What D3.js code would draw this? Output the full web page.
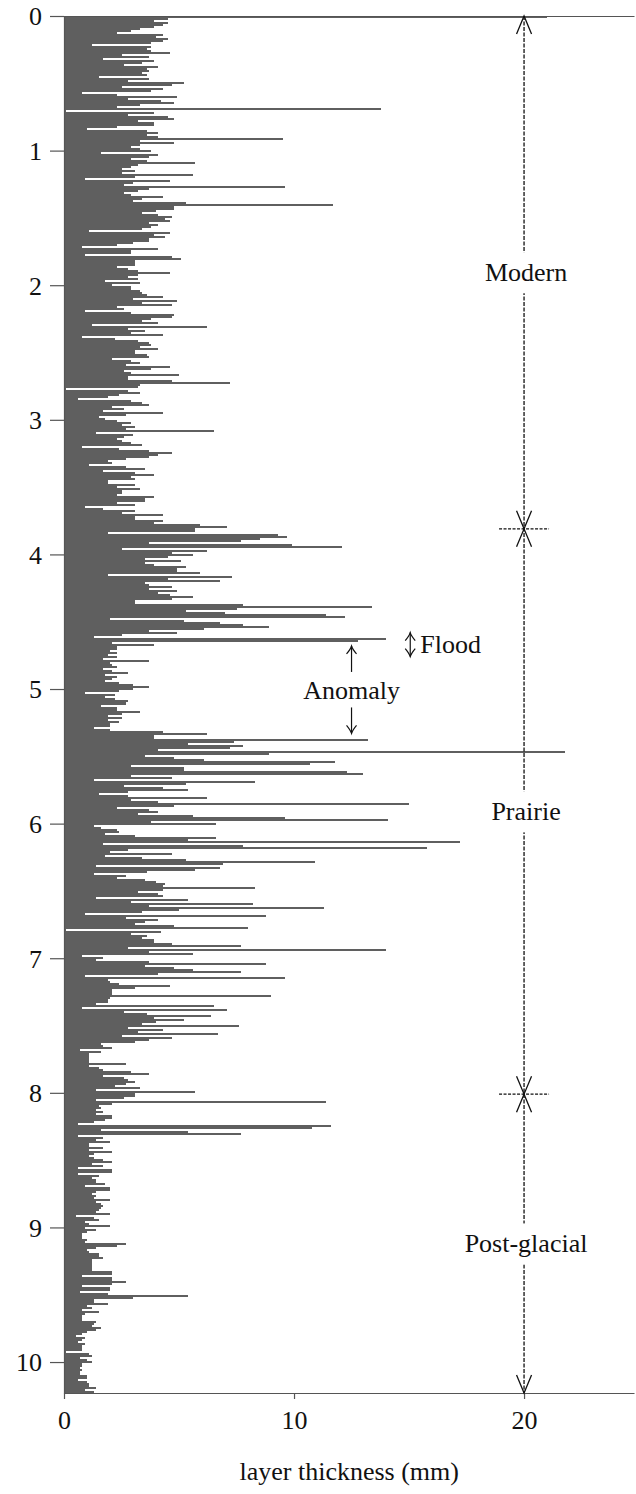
<!DOCTYPE html>
<html><head><meta charset="utf-8">
<script src="https://cdn.jsdelivr.net/npm/d3@7"></script>
<style>body{margin:0;background:#fff}</style>
</head><body>
<svg id="chart" width="636" height="1494"></svg>
<script>
// layer thickness (mm), top to bottom, evenly spaced in depth
const seg1=[21.0,4.5,3.9,4.5,4.3,3.9,3.3,2.9,2.3,4.3,4.0,4.5,4.3,3.8,1.2,3.8,3.6,3.8,4.6,2.5,3.7,1.7,3.9,3.4,2.6,4.1,3.6,3.7,3.4,3.6,1.5,3.7,2.8,5.2,4.7,2.5,4.3,3.8,0.8,2.3,4.9,2.8,4.2,4.8,3.3,2.3,13.8,0.1,3.9,2.8,4.5,4.8,3.2,3.9];
const seg2=[3.9,2.3,1.0,3.6,4.1,3.6,4.1,9.5,3.3,4.8,3.3,2.9,3.3,3.8,1.6,4.1,3.7,2.9,3.6,5.7,3.2,2.9,2.5,3.1,2.5,5.6,3.1,0.9,4.6,3.0,2.6,9.6,3.7,3.2,2.6,2.9,4.3,3.4,3.0,5.3,11.7,4.8,4.8,4.0,3.4,4.1,4.7,4.4,4.6,3.7,4.1,3.8,3.4,1.1,4.6,3.9,4.4,3.7];
const seg3=[3.7,3.0,2.3,0.8,4.1,2.9,2.9,0.9,4.7,5.1,3.1,3.1,3.1,2.3,2.8,3.2,4.6,3.2,2.8,3.2,1.8,3.3,2.1,2.9,2.9,3.3,3.4,3.6,4.3,3.0,4.9,3.4,4.7,2.3,2.6,0.9,2.9,4.8,4.7,3.8,3.4,4.1,1.2,6.2,2.8,3.5,2.9,4.3,0.8,2.2,3.2,3.7,3.8,3.3,4.1,3.1,3.1,3.6,3.7,2.1,2.9,3.3,2.7,4.6,3.8,2.6,2.9,5.0,2.8,2.8,4.7];
const seg4=[7.2,3.3,3.2,0.1,2.8,3.3,2.4,1.9,0.6,2.9,3.4,3.7,2.1,2.6,1.7,4.3,2.7,1.5,1.8,2.3,2.9,2.5,3.1,2.7,6.5,1.4,3.0,2.6,2.3,2.5,2.9,3.4,0.8,2.4,3.7,4.7,4.1,3.7,2.7,1.9,2.1,1.1,2.7,3.5,1.7,3.1,3.9,2.9,3.1,1.9,1.9,3.1,2.3,3.3,2.5,2.5,2.3,3.9,3.5,3.5,2.3,3.1,0.9,1.7,3.1,2.5,4.3,3.1,3.1,4.3,3.9];
const seg5=[5.9,7.1,5.7,5.7,1.9,9.3,9.7,8.5,7.7,3.7,9.9,12.1,2.5,6.2,4.7,5.6,4.5,3.5,5.1,3.5,3.9,5.3,4.9,4.9,5.9,1.9,7.3,4.5,6.8,3.5,3.7,4.7,3.7,4.9,4.1,4.6,5.6,4.7,3.1,3.1,7.8,13.4,7.5,5.3,7.0,11.4,12.2,2.0,5.2,6.8,7.8,8.9,6.1,3.7,4.9,2.5,1.3,14.0,12.8,2.1,3.9,2.3,2.3,2.0,2.3,1.9,2.3,1.7,3.7,2.0,2.1];
const seg6=[2.3,1.7,2.1,2.8,1.8,2.3,2.1,1.8,2.4,3.0,3.7,3.0,2.4,0.9,2.2,1.8,2.2,2.8,2.7,1.6,2.3,2.3,3.3,2.5,1.9,2.5,1.9,2.4,2.0,2.0,1.3,2.0,4.3,6.2,3.9,3.9,13.2,7.4,5.4,7.8,7.2,4.1,21.8,8.9,3.5,4.8,6.1,11.8,10.7,2.9,5.2,5.2,12.3,13.0,2.9,4.7,1.3,8.3,5.3,2.6,4.3,5.4,2.8,1.5,2.8,6.2,2.9,4.1,15.0,4.8,2.3];
const seg7=[3.7,4.1,3.2,5.6,9.6,14.1,3.8,6.6,1.3,1.6,2.3,2.4,1.8,3.1,6.6,5.4,17.2,1.7,7.8,15.8,2.8,2.0,4.7,1.8,3.4,5.3,10.9,6.9,1.4,6.8,5.7,3.6,1.3,2.7,2.3,3.5,4.0,4.4,4.3,8.3,4.3,3.2,4.1,4.3,1.4,5.4,2.9,8.2,3.7,11.3,5.0,3.4,0.9,8.8,2.7,4.1,3.5,3.1,4.8,8.0,0.1,4.2,2.9,3.6,3.4,3.9,3.9,4.7,7.7,2.8,14.0];
const seg8=[3.7,5.6,0.8,1.7,1.4,3.7,8.8,3.5,4.8,5.6,7.7,4.1,0.9,9.6,1.9,2.0,2.4,4.6,3.1,2.1,2.1,2.1,9.0,2.0,1.9,1.9,1.4,6.5,0.8,7.1,2.6,3.6,6.4,3.9,5.2,4.0,3.4,7.6,2.8,4.3,3.2,6.7,2.5,4.7,3.7,3.1,1.6,1.7,2.1,0.7,1.6,1.1,1.1,1.1,1.1,1.1,2.7,1.1,1.5,1.7,2.9,3.7,1.7,2.6,2.8,3.1,2.7,2.2,3.3,1.4,5.7];
const seg9=[3.1,3.1,2.6,1.4,11.4,2.1,1.5,1.6,1.4,1.7,1.4,2.1,2.1,1.8,1.3,0.6,11.6,10.8,1.6,5.4,7.7,0.6,1.7,1.4,2.0,1.1,1.1,1.7,1.1,2.1,1.3,1.1,1.3,1.7,2.1,1.2,1.7,0.6,2.1,2.1,0.6,1.5,1.2,1.4,1.4,1.8,0.9,2.0,2.0,1.4,1.2,1.4,1.3,2.0,1.4,1.6,1.7,1.6,1.5,1.4,2.0,0.5,1.3,1.5,0.9,1.1,2.0,0.9,1.4,1.0,0.8];
const seg10=[0.8,0.8,1.0,0.9,2.7,2.3,1.4,1.0,1.1,1.5,1.5,1.7,1.2,1.2,1.2,1.2,1.2,1.2,2.1,2.1,0.8,2.1,2.1,2.7,2.1,0.8,2.0,2.0,0.7,1.9,5.4,3.0,1.3,1.3,1.9,1.0,1.2,0.8,1.5,0.9,0.8,0.8,0.8,1.4,1.3,1.2,1.6,1.4,1.0,0.8,0.5,0.9,0.8,0.6,0.9,0.8,0.8,0.8,0.1,1.1,1.2,0.7,1.0,1.2,0.8,0.8,0.7,0.8,0.7,0.7,1.0,1.0,0.6,1.0,1.1,1.1,1.4,0.9,1.3];

const yTicks=[0,1,2,3,4,5,6,7,8,9,10];
const xTicks=[0,10,20];
const depthMax=10.23;
const thickMax=24.78;
const zoneBounds=[0,3.81,8.01,10.23];
const zoneNames=["Modern","Prairie","Post-glacial"];
const zoneX=20;
const floodDepth=4.67, floodX=15.4;
const anomalyRange=[4.68,5.33], anomalyX=12.5;
const xLabel="layer thickness (mm)";

const thickness=[].concat(seg1,seg2,seg3,seg4,seg5,seg6,seg7,seg8,seg9,seg10);
const step=depthMax/thickness.length;

const svg=d3.select("#chart");
const FONT="'Liberation Serif',serif";
const FS=26;
const x=d3.scaleLinear().domain([0,thickMax]).range([64,634]);
const y=d3.scaleLinear().domain([0,depthMax]).range([16,1393]);
const barColor="#5f5f5f", axisColor="#555", ink="#111";

// bars
svg.append("g").attr("shape-rendering","crispEdges")
 .selectAll("rect").data(thickness).join("rect")
 .attr("x",x(0))
 .attr("y",(d,i)=>Math.round(y(i*step)))
 .attr("width",d=>x(d)-x(0))
 .attr("height",(d,i)=>Math.round(y((i+1)*step))-Math.round(y(i*step)))
 .attr("fill",barColor);

// axes
const yAxis=svg.append("g").attr("transform",`translate(${x(0)},0)`)
 .call(d3.axisLeft(y).tickValues(yTicks).tickSize(14).tickSizeOuter(0).tickPadding(8).tickFormat(d3.format("d")));
const xAxis=svg.append("g").attr("transform",`translate(0,${y(depthMax)})`)
 .call(d3.axisBottom(x).tickValues(xTicks).tickSize(6).tickSizeOuter(0).tickPadding(12).tickFormat(d3.format("d")));
const topAxis=svg.append("g").attr("transform",`translate(0,${y(0)})`)
 .call(d3.axisTop(x).tickValues([]).tickSizeOuter(0));
[yAxis,xAxis,topAxis].forEach(g=>{
  g.selectAll("path,line").attr("stroke",axisColor).attr("stroke-width",1.2);
  g.selectAll("text").attr("font-family",FONT).attr("font-size",FS).attr("fill",ink);
});
yAxis.selectAll("text").attr("dy","0.34em");
xAxis.selectAll("text").attr("dy","0.71em");

svg.append("text").attr("x",x(12.4)).attr("y",1480).attr("text-anchor","middle")
 .attr("font-family",FONT).attr("font-size",FS).attr("fill",ink).text(xLabel);

// zone arrow
const zx=x(zoneX);
const ann=svg.append("g").attr("stroke",ink).attr("fill","none").attr("stroke-width",1.3);
ann.append("line").attr("x1",zx).attr("x2",zx).attr("y1",y(0)).attr("y2",y(depthMax))
 .attr("stroke-dasharray","4,1.5");
zoneBounds.forEach((b,i)=>{
  const yy=y(b);
  if(i>0) ann.append("path").attr("d",`M${zx-7.5},${yy-18}L${zx},${yy}L${zx+7.5},${yy-18}`);
  if(i<zoneBounds.length-1) ann.append("path").attr("d",`M${zx-7.5},${yy+18}L${zx},${yy}L${zx+7.5},${yy+18}`);
  if(i>0 && i<zoneBounds.length-1) ann.append("line").attr("x1",zx-25).attr("x2",zx+25).attr("y1",yy).attr("y2",yy).attr("stroke-dasharray","3,1.5");
});
zoneNames.forEach((n,i)=>{
  const ym=y((zoneBounds[i]+zoneBounds[i+1])/2);
  const t=svg.append("text").attr("x",zx+2).attr("y",ym).attr("dy","0.34em").attr("text-anchor","middle")
   .attr("font-family",FONT).attr("font-size",FS).attr("fill",ink).text(n);
  const bb=t.node().getBBox();
  svg.insert("rect",()=>t.node()).attr("x",zx-3).attr("width",6).attr("y",bb.y-6).attr("height",bb.height+12).attr("fill","#fff");
});

// arrow glyph helper: vertical arrow with curved barbs
function barb(xc,tip,dir){ // dir=-1 head points up, +1 points down
  const b=8*(-dir);
  return `M${xc-5},${tip+b}Q${xc-1},${tip+b*0.4} ${xc},${tip}Q${xc+1},${tip+b*0.4} ${xc+5},${tip+b}`;
}
const sym=svg.append("g").attr("stroke",ink).attr("fill","none").attr("stroke-width",1.2);
// flood: double-headed arrow + text
const fx=x(floodX), fy=y(floodDepth);
sym.append("line").attr("x1",fx-8).attr("x2",fx-8).attr("y1",fy-12).attr("y2",fy+12);
sym.append("path").attr("d",barb(fx-8,fy-12,-1));
sym.append("path").attr("d",barb(fx-8,fy+12,1));
svg.append("text").attr("x",fx+2).attr("y",fy).attr("dy","0.34em")
 .attr("font-family",FONT).attr("font-size",FS).attr("fill",ink).text("Flood");
// anomaly
const ax=x(anomalyX);
const yTop=y(anomalyRange[0]), yBot=y(anomalyRange[1]);
sym.append("line").attr("x1",ax).attr("x2",ax).attr("y1",yTop).attr("y2",yTop+26);
sym.append("path").attr("d",barb(ax,yTop,-1));
sym.append("line").attr("x1",ax).attr("x2",ax).attr("y1",yBot-26).attr("y2",yBot);
sym.append("path").attr("d",barb(ax,yBot,1));
svg.append("text").attr("x",ax).attr("y",(yTop+yBot)/2).attr("dy","0.34em").attr("text-anchor","middle")
 .attr("font-family",FONT).attr("font-size",FS).attr("fill",ink).text("Anomaly");
</script>
</body></html>
